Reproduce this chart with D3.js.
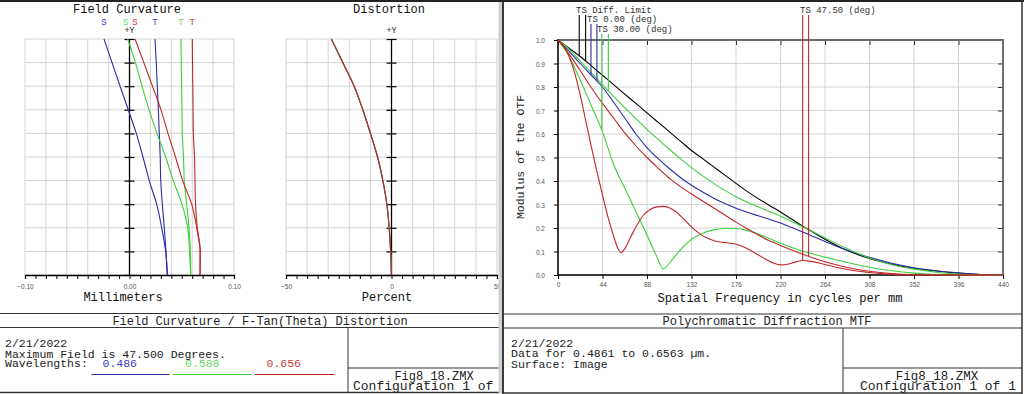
<!DOCTYPE html>
<html>
<head>
<meta charset="utf-8">
<script src="https://cdn.jsdelivr.net/npm/d3@7"></script>
<style>
  body { margin: 0; background: #fff; }
  svg { display: block; }
  text { font-family: "Liberation Mono", "Courier New", monospace; fill: #222; }
  .tick text { font-family: "Liberation Sans", Arial, sans-serif; font-size: 6.5px; fill: #555; }
</style>
</head>
<body>
<svg id="chart" width="1024" height="394"></svg>
<script>
// ---- field curvature / distortion data (field angle in degrees) ----
const fieldAngles = [0, 4.75, 9.5, 14.25, 19, 23.75, 28.5, 33.25, 38, 42.75, 47.5];
const sagBlue  = [0.0362, 0.0346, 0.0308, 0.0260, 0.0189, 0.0129, 0.0065, -0.0012, -0.0090, -0.0167, -0.0244];
const tanBlue  = [0.0362, 0.0349, 0.0333, 0.0314, 0.0299, 0.0294, 0.0285, 0.0276, 0.0266, 0.0256, 0.0244];
const sagGreen = [0.0586, 0.0574, 0.0557, 0.0502, 0.0419, 0.0346, 0.0263, 0.0187, 0.0120, 0.0057, -0.0017];
const tanGreen = [0.0586, 0.0582, 0.0570, 0.0547, 0.0524, 0.0517, 0.0505, 0.0502, 0.0499, 0.0495, 0.0492];
const sagRed   = [0.0675, 0.0675, 0.0643, 0.0595, 0.0509, 0.0440, 0.0368, 0.0301, 0.0220, 0.0137, 0.0053];
const tanRed   = [0.0675, 0.0678, 0.0649, 0.0632, 0.0627, 0.0622, 0.0611, 0.0608, 0.0606, 0.0603, 0.0601];
const distortionPct = [0, -0.4, -1.1, -2.2, -4.1, -6.6, -10.0, -13.6, -17.7, -23.1, -28.5];

const wavelengths = ["0.486", "0.588", "0.656"];
const waveColors = ["#2c2ca8", "#3ccf3c", "#c02626"];
const waveTextColors = ["#3a3ac0", "#6ad86a", "#c84040"];

// ---- polychromatic MTF data: [cycles/mm, modulus] ----
const mtfDiffLimit = [[0,1],[11,0.965],[22,0.93],[33,0.89],[44,0.85],[55,0.81],[66,0.77],[77,0.73],[88,0.69],[99,0.65],[110,0.61],[121,0.57],[132,0.53],[143,0.495],[154,0.46],[165,0.425],[176,0.39],[187,0.356],[198,0.325],[209,0.296],[220,0.268],[231,0.238],[242,0.208],[253,0.18],[264,0.152],[286,0.104],[308,0.07],[330,0.046],[352,0.029],[374,0.017],[396,0.008],[418,0.002],[430,0],[440,0]];
const mtfField0 = [[0,1],[11,0.952],[22,0.9],[33,0.85],[44,0.8],[55,0.735],[66,0.668],[77,0.6],[88,0.542],[99,0.495],[110,0.453],[121,0.415],[132,0.382],[143,0.353],[154,0.327],[165,0.304],[176,0.284],[187,0.267],[198,0.252],[209,0.237],[220,0.221],[231,0.202],[242,0.183],[253,0.163],[264,0.143],[286,0.105],[308,0.075],[330,0.05],[352,0.031],[374,0.018],[396,0.009],[418,0.002],[430,0],[440,0]];
const mtfField30S = [[0,1],[11,0.96],[22,0.91],[33,0.86],[44,0.81],[55,0.76],[66,0.712],[77,0.665],[88,0.62],[99,0.577],[110,0.535],[121,0.495],[132,0.457],[143,0.422],[154,0.39],[165,0.36],[176,0.333],[187,0.31],[198,0.29],[209,0.27],[220,0.25],[231,0.228],[242,0.205],[253,0.182],[264,0.158],[286,0.112],[308,0.072],[330,0.044],[352,0.025],[374,0.012],[396,0.004],[410,0],[440,0]];
const mtfField30T = [[0,1],[11,0.93],[22,0.83],[33,0.72],[44,0.61],[55,0.47],[66,0.37],[77,0.27],[88,0.17],[97,0.085],[104.4,0.025],[110,0.05],[121,0.107],[132,0.152],[143,0.178],[154,0.192],[165,0.199],[176,0.198],[187,0.19],[198,0.174],[209,0.155],[220,0.135],[231,0.117],[242,0.101],[253,0.088],[264,0.076],[286,0.053],[308,0.033],[330,0.018],[352,0.008],[374,0.002],[390,0],[440,0]];
const mtfField47S = [[0,1],[11,0.94],[22,0.87],[33,0.797],[44,0.73],[55,0.668],[66,0.605],[77,0.55],[88,0.5],[99,0.455],[110,0.412],[121,0.376],[132,0.345],[143,0.315],[154,0.285],[165,0.255],[176,0.225],[187,0.197],[198,0.17],[209,0.146],[220,0.126],[231,0.106],[242,0.088],[253,0.071],[264,0.056],[286,0.032],[308,0.016],[330,0.006],[352,0.001],[365,0],[440,0]];
const mtfField47T = [[0,1],[5.5,0.975],[11,0.93],[16.5,0.86],[22,0.765],[27.5,0.655],[33,0.545],[38.5,0.44],[44,0.34],[49.5,0.245],[55,0.165],[59,0.115],[62,0.095],[66,0.112],[72,0.163],[78,0.212],[84,0.252],[91,0.279],[98,0.29],[104,0.292],[110,0.286],[117,0.268],[124,0.24],[132,0.205],[140,0.176],[148,0.156],[156,0.144],[165,0.138],[174,0.133],[182,0.122],[190,0.105],[198,0.085],[206,0.066],[213,0.051],[220,0.043],[228,0.047],[236,0.057],[242,0.062],[250,0.058],[262,0.047],[275,0.033],[289,0.021],[305,0.012],[322,0.005],[335,0.001],[345,0],[440,0]];

const freqTicks = [0, 44, 88, 132, 176, 220, 264, 308, 352, 396, 440];
const modulusTicks = [0, 0.1, 0.2, 0.3, 0.4, 0.5, 0.6, 0.7, 0.8, 0.9, 1.0];
const legendLabels = ["TS Diff. Limit", "TS 0.00 (deg)", "TS 30.00 (deg)", "TS 47.50 (deg)"];
const legendLeaderFreqs = [[21, 27.3], [32.6, 38.5], [43.3, 49.8], [241.9, 247.8]];

const svg = d3.select("#chart");
svg.append("rect").attr("width", 1024).attr("height", 394).attr("fill", "#fff");

const fieldY = d3.scaleLinear().domain([0, 47.5]).range([275, 39]);
const fieldTicks = d3.range(11).map(i => i * 4.75);

// ---------- left window: field curvature + distortion ----------
const left = svg.append("g");
left.append("clipPath").attr("id", "leftClip").append("rect").attr("x", 0).attr("y", 0).attr("width", 500).attr("height", 394);
const leftClip = left.append("g").attr("clip-path", "url(#leftClip)");

function drawAberrationPlot(xScale, fmt, title, titleX, axisTitle, axisTitleX) {
    const g = left.append("g");
    const [d0, d1] = xScale.domain();
    const gridX = d3.range(11).map(i => d0 + i * (d1 - d0) / 10);

    g.selectAll(".vgrid").data(gridX).join("line")
        .attr("x1", d => xScale(d)).attr("x2", d => xScale(d))
        .attr("y1", fieldY(47.5)).attr("y2", fieldY(0))
        .attr("stroke", "#d4d4d4").attr("stroke-width", 1);
    g.selectAll(".hgrid").data(fieldTicks).join("line")
        .attr("x1", xScale(d0)).attr("x2", xScale(d1))
        .attr("y1", d => fieldY(d)).attr("y2", d => fieldY(d))
        .attr("stroke", "#d4d4d4").attr("stroke-width", 1);

    // bottom axis
    const bottom = g.append("g")
        .attr("transform", "translate(0," + fieldY(0) + ")")
        .call(d3.axisBottom(xScale)
            .tickValues(d3.range(21).map(i => d0 + i * (d1 - d0) / 20))
            .tickSize(4).tickPadding(5)
            .tickFormat(d => (Math.abs(d - d0) < 1e-9 || Math.abs(d - d1) < 1e-9 || Math.abs(d) < 1e-9) ? fmt(d) : ""));
    bottom.select(".domain").attr("stroke", "#000").attr("stroke-width", 1.3);
    bottom.selectAll(".tick line").attr("stroke", "#000");

    // +Y axis through zero
    const cx = xScale(0);
    g.append("line").attr("x1", cx).attr("x2", cx).attr("y1", fieldY(47.5)).attr("y2", fieldY(0))
        .attr("stroke", "#000").attr("stroke-width", 1.3);
    [d3.axisLeft(fieldY), d3.axisRight(fieldY)].forEach(ax => {
        const a = g.append("g").attr("transform", "translate(" + cx + ",0)")
            .call(ax.tickValues(fieldTicks).tickSize(5).tickFormat(""));
        a.select(".domain").remove();
        a.selectAll(".tick line").attr("stroke", "#000").attr("stroke-width", 1.2);
    });

    g.append("text").attr("x", cx).attr("y", 33).attr("text-anchor", "middle")
        .style("font-size", "8.5px").text("+Y");
    g.append("text").attr("x", titleX).attr("y", 13).attr("text-anchor", "middle")
        .style("font-size", "12px").style("fill", "#111").text(title);
    g.append("text").attr("x", axisTitleX).attr("y", 301).attr("text-anchor", "middle")
        .style("font-size", "12px").style("fill", "#111").text(axisTitle);
    return g;
}

const fcX = d3.scaleLinear().domain([-0.1, 0.1]).range([25, 234]);
const dsX = d3.scaleLinear().domain([-50, 50]).range([286, 497]);

const fcPlot = drawAberrationPlot(fcX, d3.format(".2f"), "Field Curvature", 127, "Millimeters", 123);
const dsPlot = drawAberrationPlot(dsX, d3.format("d"), "Distortion", 389, "Percent", 387);

const fcSeries = [
    {vals: sagBlue, color: waveColors[0], label: "S"},
    {vals: tanBlue, color: waveColors[0], label: "T"},
    {vals: sagGreen, color: waveColors[1], label: "S"},
    {vals: tanGreen, color: waveColors[1], label: "T"},
    {vals: sagRed, color: waveColors[2], label: "S"},
    {vals: tanRed, color: waveColors[2], label: "T"}
];
const fcLine = d3.line().curve(d3.curveMonotoneY);
fcSeries.forEach(s => {
    fcPlot.append("path")
        .datum(fieldAngles.map((f, i) => [fcX(s.vals[i]), fieldY(f)]))
        .attr("fill", "none").attr("stroke", s.color).attr("stroke-width", 1.1)
        .attr("d", fcLine);
});
const labelColors = [waveTextColors[0], waveTextColors[0], waveTextColors[1], waveTextColors[1], waveTextColors[2], waveTextColors[2]];
fcSeries.forEach((s, i) => {
    fcPlot.append("text")
        .attr("x", fcX(s.vals[s.vals.length - 1]) + (s.label === "S" && i === 2 ? -2 : 0))
        .attr("y", 25).attr("text-anchor", "middle")
        .style("font-size", "9px").style("fill", labelColors[i]).text(s.label);
});

waveColors.forEach(c => {
    dsPlot.append("path")
        .datum(fieldAngles.map((f, i) => [dsX(distortionPct[i]), fieldY(f)]))
        .attr("fill", "none").attr("stroke", c).attr("stroke-width", 1.1)
        .attr("d", fcLine);
});

// left info block
function hline(g, x1, x2, y, w, c) {
    g.append("line").attr("x1", x1).attr("x2", x2).attr("y1", y).attr("y2", y)
        .attr("stroke", c || "#333").attr("stroke-width", w || 1);
}
function vline(g, x, y1, y2, w, c) {
    g.append("line").attr("x1", x).attr("x2", x).attr("y1", y1).attr("y2", y2)
        .attr("stroke", c || "#333").attr("stroke-width", w || 1);
}

hline(leftClip, 0, 500, 313.5);
hline(leftClip, 0, 500, 327.5);
vline(leftClip, 348, 327.5, 392);
hline(leftClip, 348, 500, 368);
hline(leftClip, 0, 500, 392.5, 1.5);
leftClip.append("text").attr("x", 260).attr("y", 324.5).attr("text-anchor", "middle")
    .style("font-size", "12px").text("Field Curvature / F-Tan(Theta) Distortion");
leftClip.append("text").attr("x", 5).attr("y", 347).style("font-size", "11.5px").text("2/21/2022");
leftClip.append("text").attr("x", 5).attr("y", 358).style("font-size", "11.5px").text("Maximum Field is 47.500 Degrees.");
leftClip.append("text").attr("x", 5).attr("y", 367).style("font-size", "11.5px").text("Wavelengths:");
const waveX = [102.5, 185, 266.5];
const waveLineX = [[91.5, 169.5], [173, 251.5], [255, 334.5]];
wavelengths.forEach((w, i) => {
    leftClip.append("text").attr("x", waveX[i]).attr("y", 367)
        .style("font-size", "11.5px").style("fill", waveTextColors[i]).text(w);
    hline(leftClip, waveLineX[i][0], waveLineX[i][1], 374.5, 1.2, waveColors[i]);
});
leftClip.append("text").attr("x", 434).attr("y", 380).attr("text-anchor", "middle")
    .style("font-size", "12px").text("Fig8_18.ZMX");
leftClip.append("text").attr("x", 353).attr("y", 390).style("font-size", "13px").text("Configuration 1 of 1");

// ---------- window divider ----------
svg.append("rect").attr("x", 498.5).attr("y", 0).attr("width", 3.5).attr("height", 394).attr("fill", "#d0d0d0");
vline(svg, 503, 0, 394, 2, "#3a3a3a");
hline(svg, 0, 1024, 1, 2, "#222");

// ---------- right window: polychromatic MTF ----------
const right = svg.append("g");
const mtfX = d3.scaleLinear().domain([0, 440]).range([558, 1003]);
const mtfY = d3.scaleLinear().domain([0, 1]).range([275, 40]);

right.selectAll(".mvgrid").data(freqTicks).join("line")
    .attr("x1", d => mtfX(d)).attr("x2", d => mtfX(d))
    .attr("y1", mtfY(1)).attr("y2", mtfY(0))
    .attr("stroke", "#d4d4d4");
right.selectAll(".mhgrid").data(modulusTicks).join("line")
    .attr("x1", mtfX(0)).attr("x2", mtfX(440))
    .attr("y1", d => mtfY(d)).attr("y2", d => mtfY(d))
    .attr("stroke", "#d4d4d4");

const xb = right.append("g").attr("transform", "translate(0," + mtfY(0) + ")")
    .call(d3.axisBottom(mtfX).tickValues(freqTicks).tickSize(4).tickPadding(3).tickFormat(d3.format("d")));
const yl = right.append("g").attr("transform", "translate(" + mtfX(0) + ",0)")
    .call(d3.axisLeft(mtfY).tickValues(modulusTicks).tickSize(4).tickPadding(9).tickFormat(d3.format(".1f")));
const xt = right.append("g").attr("transform", "translate(0," + mtfY(1) + ")")
    .call(d3.axisTop(mtfX).tickValues(freqTicks).tickSize(-5).tickFormat(""));
const yr = right.append("g").attr("transform", "translate(" + mtfX(440) + ",0)")
    .call(d3.axisRight(mtfY).tickValues(modulusTicks).tickSize(-5).tickFormat(""));
[xb, yl, xt, yr].forEach(a => a.select(".domain").remove());
[xb, yl].forEach(a => a.selectAll(".tick line").attr("stroke", "#000"));
[xt, yr].forEach(a => a.selectAll(".tick line").attr("stroke", "#333"));
yl.selectAll(".tick text").attr("dy", "0.42em");

hline(right, mtfX(0), mtfX(440) + 1, mtfY(1), 2, "#6e6e6e");
vline(right, mtfX(440), mtfY(1), mtfY(0), 2, "#6e6e6e");
vline(right, mtfX(0), mtfY(1) - 1, mtfY(0) + 1, 1.5, "#000");
hline(right, mtfX(0), mtfX(440), mtfY(0), 1.5, "#000");

const mtfLine = d3.line().x(d => mtfX(d[0])).y(d => mtfY(d[1])).curve(d3.curveMonotoneX);
const mtfSeries = [
    {data: mtfDiffLimit, color: "#000"},
    {data: mtfField0, color: waveColors[0]},
    {data: mtfField30S, color: waveColors[1]},
    {data: mtfField30T, color: waveColors[1]},
    {data: mtfField47S, color: waveColors[2]},
    {data: mtfField47T, color: waveColors[2]}
];
mtfSeries.forEach(s => {
    right.append("path").datum(s.data)
        .attr("fill", "none").attr("stroke", s.color).attr("stroke-width", 1.1)
        .attr("d", mtfLine);
});

function valueAt(series, f) {
    for (let i = 1; i < series.length; i++) {
        const [f0, m0] = series[i - 1], [f1, m1] = series[i];
        if (f <= f1) return m0 + (m1 - m0) * (f - f0) / (f1 - f0);
    }
    return series[series.length - 1][1];
}

// legend labels with leader lines down to the T and S curves
const legendX = [576, 587, 597, 800];
const legendY = [13, 22, 32, 13];
const leaderTop = [15, 24, 34, 15];
const leaderTargets = [[mtfDiffLimit, mtfDiffLimit], [mtfField0, mtfField0], [mtfField30T, mtfField30S], [mtfField47T, mtfField47S]];
const leaderColors = ["#000", waveColors[0], waveColors[1], waveColors[2]];
legendLabels.forEach((lab, i) => {
    right.append("text").attr("x", legendX[i]).attr("y", legendY[i])
        .style("font-size", "9px").style("fill", "#333").text(lab);
    legendLeaderFreqs[i].forEach((f, j) => {
        vline(right, mtfX(f), leaderTop[i], mtfY(valueAt(leaderTargets[i][j], f)), 1.1, leaderColors[i]);
    });
});

right.append("text").attr("x", 780).attr("y", 302).attr("text-anchor", "middle")
    .style("font-size", "12px").style("fill", "#111")
    .text("Spatial Frequency in cycles per mm");
right.append("text").attr("transform", "translate(524,157) rotate(-90)").attr("text-anchor", "middle")
    .style("font-size", "11.5px").style("fill", "#222")
    .text("Modulus of the OTF");

// right info block
hline(right, 504, 1022, 314);
hline(right, 504, 1022, 328);
vline(right, 843, 328, 393);
hline(right, 843, 1022, 368);
hline(right, 504, 1022, 393, 1.5);
vline(right, 1022, 0, 394, 1.5, "#333");
right.append("text").attr("x", 767).attr("y", 325).attr("text-anchor", "middle")
    .style("font-size", "12px").text("Polychromatic Diffraction MTF");
right.append("text").attr("x", 511).attr("y", 347).style("font-size", "11.5px").text("2/21/2022");
right.append("text").attr("x", 511).attr("y", 357).style("font-size", "11.5px").text("Data for 0.4861 to 0.6563 \u00b5m.");
right.append("text").attr("x", 511).attr("y", 367.5).style("font-size", "11.5px").text("Surface: Image");
right.append("text").attr("x", 937).attr("y", 380).attr("text-anchor", "middle")
    .style("font-size", "12.5px").text("Fig8_18.ZMX");
right.append("text").attr("x", 860).attr("y", 390).style("font-size", "13px").text("Configuration 1 of 1");
</script>
</body>
</html>
